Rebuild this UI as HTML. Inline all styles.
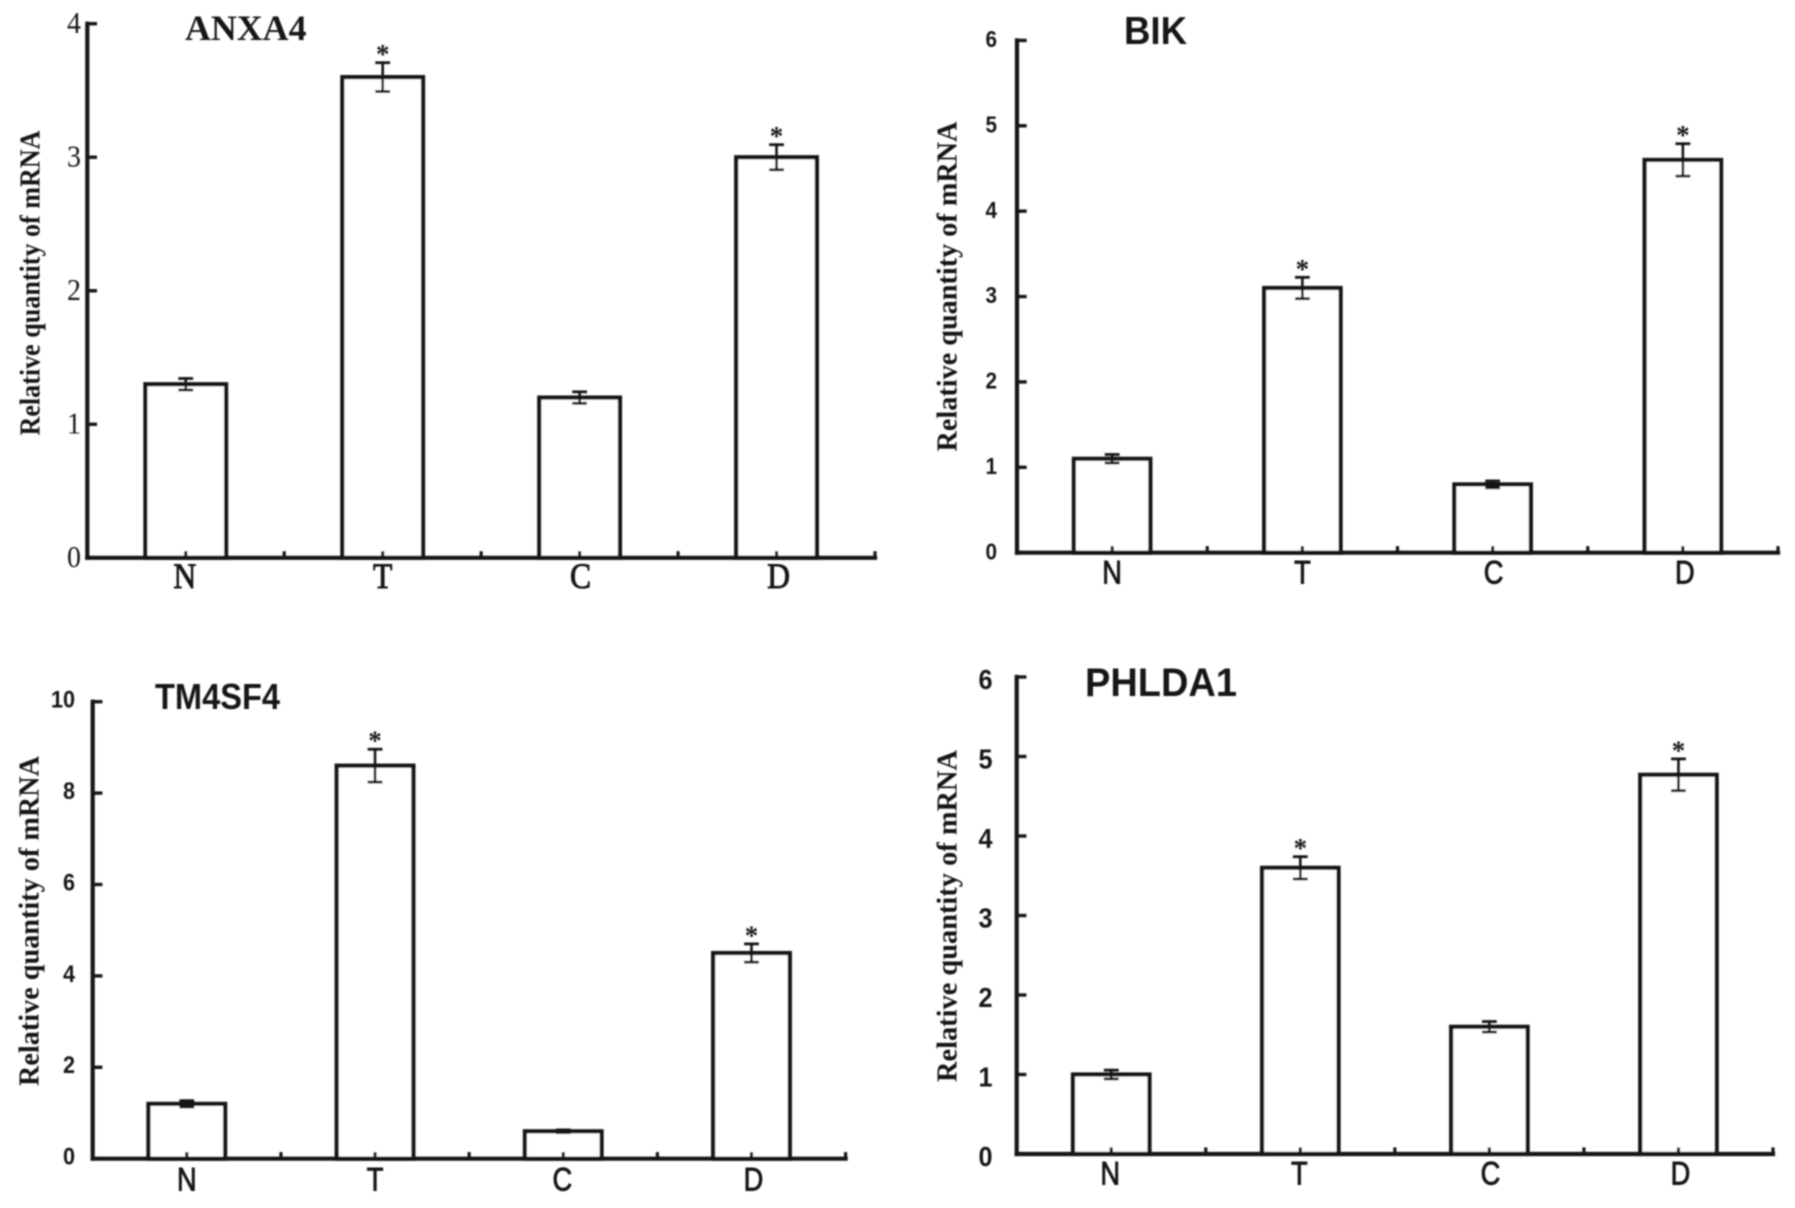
<!DOCTYPE html>
<html lang="en">
<head>
<meta charset="utf-8">
<title>Relative quantity of mRNA: ANXA4, BIK, TM4SF4, PHLDA1</title>
<style>
  html, body { margin: 0; padding: 0; background: #ffffff; }
  svg { display: block; }
</style>
</head>
<body>
<svg id="figure" xmlns="http://www.w3.org/2000/svg" width="1795" height="1208" viewBox="0 0 1795 1208">
  <defs>
    <filter id="soft" filterUnits="userSpaceOnUse" x="0" y="0" width="1795" height="1208">
      <feGaussianBlur stdDeviation="0.8"></feGaussianBlur>
    </filter>
  </defs>
  <rect width="1795" height="1208" fill="#ffffff"></rect>
  <g id="root" filter="url(#soft)"></g>
</svg>
<script>
const categories = ['N', 'T', 'C', 'D'];

const anxa4Ticks = [0, 1, 2, 3, 4];
const anxa4Values = [1.3, 3.6, 1.2, 3.0];
const anxa4Errors = [0.043, 0.108, 0.043, 0.094];
const anxa4Starred = [false, true, false, true];

const bikTicks = [0, 1, 2, 3, 4, 5, 6];
const bikValues = [1.1, 3.1, 0.8, 4.6];
const bikErrors = [0.05, 0.125, 0.04, 0.19];
const bikStarred = [false, true, false, true];

const tm4sf4Ticks = [0, 2, 4, 6, 8, 10];
const tm4sf4Values = [1.2, 8.6, 0.6, 4.5];
const tm4sf4Errors = [0.07, 0.36, 0.03, 0.2];
const tm4sf4Starred = [false, true, false, true];

const phlda1Ticks = [0, 1, 2, 3, 4, 5, 6];
const phlda1Values = [1.0, 3.6, 1.6, 4.77];
const phlda1Errors = [0.055, 0.14, 0.066, 0.2];
const phlda1Starred = [false, true, false, true];

const yAxisTitle = 'Relative quantity of mRNA';

const SERIF = '"Liberation Serif", serif';
const SANS = '"Liberation Sans", sans-serif';
const INK = '#141414';
const NS = 'http://www.w3.org/2000/svg';

const panels = [
  { id: 'anxa4', title: 'ANXA4', ticks: anxa4Ticks, values: anxa4Values, errors: anxa4Errors, starred: anxa4Starred,
    left: 87.3, right: 875, top: 23.7, base: 557.8, barW: 80.7,
    tickFont: SERIF, tickSize: 31, tickWeight: 'normal', tickRight: 81, tickDy: -1, tickSqueeze: 0.9,
    catFont: SERIF, catSize: 36, catWeight: 'normal', catY: 576, catSqueeze: 0.88, catDx: [-1, 0, 1, 2],
    titleFont: SERIF, titleSize: 36, titleX: 185, titleW: 121.5, titleY: 28,
    yTitleX: 33, yTitleY: 283, yTitleLen: 305, yTitleSize: 29 },
  { id: 'bik', title: 'BIK', ticks: bikTicks, values: bikValues, errors: bikErrors, starred: bikStarred,
    left: 1017, right: 1778, top: 40.4, base: 552.7, barW: 76.5,
    tickFont: SANS, tickSize: 23, tickWeight: 'bold', tickRight: 997, tickDy: -1, tickSqueeze: 0.9,
    catFont: SANS, catSize: 32, catWeight: 'normal', catY: 573, catSqueeze: 0.85, catDx: [0, 0, 1, 2],
    titleFont: SANS, titleSize: 39, titleX: 1124, titleW: 63, titleY: 31,
    yTitleX: 950, yTitleY: 286.5, yTitleLen: 330, yTitleSize: 29 },
  { id: 'tm4sf4', title: 'TM4SF4', ticks: tm4sf4Ticks, values: tm4sf4Values, errors: tm4sf4Errors, starred: tm4sf4Starred,
    left: 92.7, right: 845.6, top: 701.7, base: 1158.7, barW: 76.7,
    tickFont: SANS, tickSize: 24, tickWeight: 'bold', tickRight: 75, tickDy: -2, tickSqueeze: 0.9,
    catFont: SANS, catSize: 32, catWeight: 'normal', catY: 1180, catSqueeze: 0.85, catDx: [0, 0, -1, 2],
    titleFont: SANS, titleSize: 36, titleX: 155, titleW: 125, titleY: 697,
    yTitleX: 31.6, yTitleY: 921, yTitleLen: 330, yTitleSize: 29 },
  { id: 'phlda1', title: 'PHLDA1', ticks: phlda1Ticks, values: phlda1Values, errors: phlda1Errors, starred: phlda1Starred,
    left: 1016.7, right: 1773, top: 677, base: 1154, barW: 76.5,
    tickFont: SANS, tickSize: 28, tickWeight: 'bold', tickRight: 992.5, tickDy: 3, tickSqueeze: 0.9,
    catFont: SANS, catSize: 32, catWeight: 'normal', catY: 1174, catSqueeze: 0.85, catDx: [-1, -1, 1, 2],
    titleFont: SANS, titleSize: 40, titleX: 1085, titleW: 152, titleY: 683,
    yTitleX: 950, yTitleY: 916, yTitleLen: 332, yTitleSize: 29 }
];

function make(tag, attrs, parent) {
  const node = document.createElementNS(NS, tag);
  for (const key in attrs) node.setAttribute(key, attrs[key]);
  parent.appendChild(node);
  return node;
}

function strokeLine(x1, y1, x2, y2, width, parent) {
  return make('line', { x1: x1, y1: y1, x2: x2, y2: y2, stroke: INK, 'stroke-width': width, 'stroke-linecap': 'square' }, parent);
}

function squeeze(label, factor) {
  const natural = label.getComputedTextLength();
  label.setAttribute('textLength', natural * factor);
  label.setAttribute('lengthAdjust', 'spacingAndGlyphs');
}

function drawPanel(p, root) {
  const domainMax = p.ticks[p.ticks.length - 1];
  const yScale = function (v) { return p.base - (v / domainMax) * (p.base - p.top); };
  const band = (p.right - p.left) / categories.length;
  const xCenter = function (i) { return p.left + band * (i + 0.5); };

  const group = make('g', {}, root);
  
  

  /* bars, drawn first so the axis sits on top */
  p.values.forEach(function (value, i) {
    const bar = make('rect', {
      x: xCenter(i) - p.barW / 2, y: yScale(value),
      width: p.barW, height: p.base - yScale(value),
      fill: '#ffffff', stroke: INK, 'stroke-width': 4.2
    }, group);
    
    

    const errGroup = make('g', {}, group);
    
    
    const hi = yScale(value + p.errors[i]);
    const lo = yScale(value - p.errors[i]);
    const cx = xCenter(i);
    strokeLine(cx, hi, cx, lo, 2.6, errGroup);
    strokeLine(cx - 6, hi, cx + 6, hi, 2.8, errGroup);
    strokeLine(cx - 6, lo, cx + 6, lo, 2.8, errGroup);

    if (p.starred[i]) {
      const star = make('text', {
        x: cx, y: hi - 13 + 13.5, 'text-anchor': 'middle',
        'font-family': SERIF, 'font-weight': 'bold', 'font-size': 27, fill: INK
      }, group);
      
      
      star.textContent = '*';
    }
  });

  /* y axis */
  const yAxis = make('g', {}, group);
  
  
  strokeLine(p.left, p.top, p.left, p.base, 4.2, yAxis);
  p.ticks.forEach(function (t) {
    const y = yScale(t);
    if (t !== 0) strokeLine(p.left, y, p.left + 8, y, 3.4, yAxis);
    const label = make('text', {
      x: p.tickRight, y: y + p.tickDy + p.tickSize * 0.33, 'text-anchor': 'end',
      'font-family': p.tickFont, 'font-weight': p.tickWeight, 'font-size': p.tickSize, fill: INK
    }, yAxis);
    
    
    label.textContent = String(t);
    squeeze(label, p.tickSqueeze);
  });

  /* x axis */
  const xAxis = make('g', {}, group);
  
  
  strokeLine(p.left, p.base, p.right, p.base, 4.2, xAxis);
  categories.forEach(function (c, i) {
    strokeLine(xCenter(i), p.base, xCenter(i), p.base - 5, 3.2, xAxis);
    strokeLine(p.left + band * (i + 1), p.base, p.left + band * (i + 1), p.base - 5, 3.2, xAxis);
    const label = make('text', {
      x: xCenter(i) + p.catDx[i], y: p.catY + p.catSize * 0.33, 'text-anchor': 'middle',
      'font-family': p.catFont, 'font-weight': p.catWeight, 'font-size': p.catSize,
      fill: INK, stroke: INK, 'stroke-width': 0.9
    }, xAxis);
    
    
    label.textContent = c;
    squeeze(label, p.catSqueeze);
  });

  /* panel title */
  const title = make('text', {
    x: p.titleX, y: p.titleY + p.titleSize * 0.33, textLength: p.titleW, lengthAdjust: 'spacingAndGlyphs',
    'font-family': p.titleFont, 'font-weight': 'bold', 'font-size': p.titleSize, fill: INK
  }, group);
  
  
  title.textContent = p.title;

  /* rotated y axis title */
  const baselineX = p.yTitleX + p.yTitleSize * 0.23;
  const yTitle = make('text', {
    x: baselineX, y: p.yTitleY, 'text-anchor': 'middle',
    textLength: p.yTitleLen, lengthAdjust: 'spacingAndGlyphs',
    transform: 'rotate(-90 ' + baselineX + ' ' + p.yTitleY + ')',
    'font-family': SERIF, 'font-weight': 'bold', 'font-size': p.yTitleSize, fill: INK
  }, group);
  
  
  yTitle.textContent = yAxisTitle;
}

const rootGroup = document.getElementById('root');
panels.forEach(function (p) { drawPanel(p, rootGroup); });
</script>
</body>
</html>
